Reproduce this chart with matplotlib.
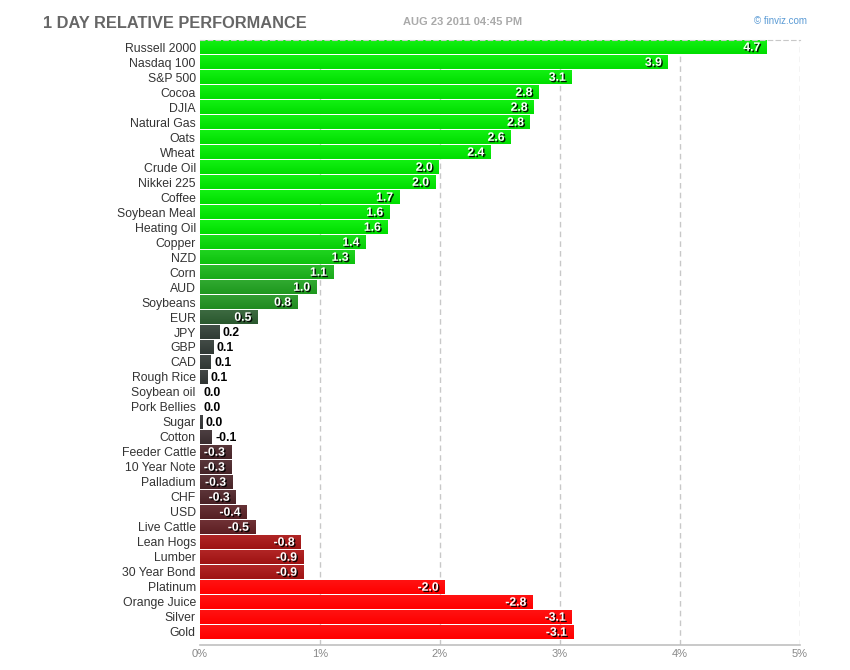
import matplotlib
matplotlib.use("Agg")
import matplotlib.pyplot as plt
import matplotlib.patheffects as pe
import numpy as np

names = ["Russell 2000", "Nasdaq 100", "S&P 500", "Cocoa", "DJIA", "Natural Gas",
         "Oats", "Wheat", "Crude Oil", "Nikkei 225", "Coffee", "Soybean Meal",
         "Heating Oil", "Copper", "NZD", "Corn", "AUD", "Soybeans", "EUR", "JPY",
         "GBP", "CAD", "Rough Rice", "Soybean oil", "Pork Bellies", "Sugar",
         "Cotton", "Feeder Cattle", "10 Year Note", "Palladium", "CHF", "USD",
         "Live Cattle", "Lean Hogs", "Lumber", "30 Year Bond", "Platinum",
         "Orange Juice", "Silver", "Gold"]
changes = [4.72, 3.90, 3.10, 2.82, 2.78, 2.75, 2.59, 2.42, 1.99, 1.96, 1.66, 1.58,
           1.56, 1.38, 1.29, 1.11, 0.97, 0.81, 0.48, 0.16, 0.11, 0.09, 0.06, 0.0,
           0.0, 0.02, -0.10, -0.26, -0.26, -0.27, -0.30, -0.39, -0.46, -0.84,
           -0.86, -0.86, -2.04, -2.77, -3.10, -3.11]
xticks = [0, 1, 2, 3, 4, 5]

# colour anchors (value -> rgb)
anchor_v = [-2.0, -0.8, -0.5, -0.3, 0.0, 0.2, 0.5, 0.8, 1.0, 1.1, 1.5]
anchor_r = [255, 154, 98, 74, 50, 47, 42, 32, 30, 26, 0]
anchor_g = [0, 20, 30, 34, 50, 63, 90, 138, 154, 168, 222]
anchor_b = [0, 20, 34, 38, 52, 53, 46, 32, 30, 26, 0]


def bar_color(v):
    return (np.interp(v, anchor_v, anchor_r) / 255,
            np.interp(v, anchor_v, anchor_g) / 255,
            np.interp(v, anchor_v, anchor_b) / 255)


plt.rcParams['font.family'] = ['Liberation Sans', 'DejaVu Sans']

fig = plt.figure(figsize=(8.5, 6.7), dpi=100)
ax = fig.add_axes([200 / 850, 1 - 645 / 670, 600 / 850, 605 / 670])

widths = np.abs(changes)
ypos = np.arange(len(names))
bar_h = 0.9

for y, w, v in zip(ypos, widths, changes):
    c = np.array(bar_color(v))
    light = np.clip(c + 0.07, 0, 1)
    grad = np.linspace(0, 1, 16)[:, None, None]
    img = light * (1 - grad) + c * grad
    if w > 0:
        ax.imshow(img, extent=(0, w, y + bar_h / 2, y - bar_h / 2),
                  aspect='auto', zorder=2, interpolation='bilinear')
    label = f"{v:.1f}"
    if w >= 0.2:
        ax.text(w - 0.05, y + 0.05, label, ha='right', va='center', color='white',
                fontsize=8.8, fontweight='bold', zorder=4,
                path_effects=[pe.withSimplePatchShadow(offset=(1, -1),
                                                       shadow_rgbFace='black', alpha=0.9)])
    else:
        ax.text(w + 0.03, y + 0.05, label, ha='left', va='center', color='black',
                fontsize=8.8, fontweight='bold', zorder=4)

ax.set_xlim(0, 5)
ax.set_ylim(len(names) - 1 + 0.87, -0.47)
ax.set_yticks(ypos)
ax.set_yticklabels(names, fontsize=8.8, color='#333333')
ax.set_xticks(xticks)
ax.set_xticklabels([f"{t}%" for t in xticks], fontsize=8, color='#888888')
ax.tick_params(axis='y', length=0, pad=3)
ax.tick_params(axis='x', length=0, pad=3)

for t in xticks[1:]:
    ax.axvline(t, color='#c8c8c8', linestyle=(0, (4, 3)), linewidth=1, zorder=1)

for side in ['left', 'right']:
    ax.spines[side].set_visible(False)
ax.spines['top'].set_color('#c8c8c8')
ax.spines['top'].set_linestyle((0, (4, 3)))
ax.spines['bottom'].set_color('#c0c0c0')
ax.spines['bottom'].set_linewidth(1.2)

fig.text(43 / 850, 1 - 23 / 670, "1 DAY RELATIVE PERFORMANCE", fontsize=11.8,
         fontweight='bold', color='#666666', va='center', ha='left')
fig.text(403 / 850, 1 - 22 / 670, "AUG 23 2011 04:45 PM", fontsize=8,
         fontweight='bold', color='#aaaaaa', va='center', ha='left')
fig.text(807 / 850, 1 - 21 / 670, "\u00a9 finviz.com", fontsize=7,
         color='#5b9bd5', va='center', ha='right')

fig.savefig("out.png", dpi=100, facecolor='white')
